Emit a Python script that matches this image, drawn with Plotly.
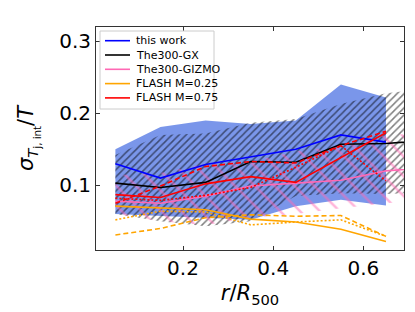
import plotly.graph_objects as go

r_bins = [0.05, 0.15, 0.25, 0.35, 0.45, 0.55, 0.65]
r_bins_ext = [0.05, 0.15, 0.25, 0.35, 0.45, 0.55, 0.65, 0.75]

# this work
tw_med = [0.130, 0.110, 0.129, 0.139, 0.150, 0.170, 0.160]
tw_hi = [0.150, 0.181, 0.190, 0.185, 0.190, 0.240, 0.222]
tw_lo = [0.060, 0.058, 0.055, 0.052, 0.071, 0.080, 0.072]

# The300-GX
gx_med = [0.103, 0.097, 0.104, 0.133, 0.132, 0.157, 0.158, 0.163]
gx_hi = [0.142, 0.170, 0.172, 0.187, 0.192, 0.213, 0.228, 0.235]
gx_lo = [0.060, 0.050, 0.043, 0.050, 0.085, 0.089, 0.088, 0.090]

# The300-GIZMO
gz_med = [0.078, 0.075, 0.085, 0.099, 0.103, 0.107, 0.120, 0.125]
gz_hi = [0.114, 0.117, 0.130, 0.133, 0.147, 0.155, 0.170, 0.172]
gz_lo = [0.060, 0.050, 0.045, 0.055, 0.060, 0.068, 0.075, 0.080]

# FLASH M=0.25
f25_solid = [0.071, 0.068, 0.066, 0.053, 0.049, 0.039, 0.022]
f25_dash = [0.031, 0.040, 0.055, 0.059, 0.057, 0.058, 0.029]
f25_dot = [0.052, 0.064, 0.063, 0.045, 0.049, 0.052, 0.029]

# FLASH M=0.75
f75_solid = [0.087, 0.083, 0.102, 0.112, 0.104, 0.139, 0.173]
f75_dash = [0.075, 0.099, 0.126, 0.133, 0.131, 0.155, 0.175]
f75_dot = [0.082, 0.079, 0.086, 0.097, 0.125, 0.155, 0.106]

legend_names = ["this work", "The300-GX", "The300-GIZMO", "FLASH M=0.25", "FLASH M=0.75"]

BLUE = "#0000ff"
PINK = "#ff69b4"
ORANGE = "#ffa500"
RED = "#ff0000"
legend_colors = [BLUE, "black", PINK, ORANGE, RED]

fig = go.Figure()

def band(x, lo, hi, **kw):
    return go.Scatter(x=list(x) + list(x)[::-1], y=list(hi) + list(lo)[::-1],
                      mode="lines", line=dict(width=0), fill="toself",
                      showlegend=False, hoverinfo="skip", **kw)

fig.add_trace(band(r_bins, tw_lo, tw_hi, fillcolor="rgba(65,105,225,0.7)"))
fig.add_trace(band(r_bins_ext, gx_lo, gx_hi, fillcolor="rgba(0,0,0,0)",
                   fillpattern=dict(shape="/", fgcolor="black", bgcolor="rgba(0,0,0,0)",
                                    size=5, solidity=0.3)))
fig.add_trace(band(r_bins_ext, gz_lo, gz_hi, fillcolor="rgba(0,0,0,0)",
                   fillpattern=dict(shape="\\", fgcolor=PINK, bgcolor="rgba(0,0,0,0)",
                                    size=14, solidity=0.18)))

def line(x, y, color, dash="solid"):
    return go.Scatter(x=x, y=y, mode="lines", line=dict(color=color, width=1.6, dash=dash),
                      showlegend=False, hoverinfo="skip")

fig.add_trace(line(r_bins, tw_med, BLUE))
fig.add_trace(line(r_bins_ext, gx_med, "black"))
fig.add_trace(line(r_bins_ext, gz_med, PINK))
fig.add_trace(line(r_bins, f25_solid, ORANGE))
fig.add_trace(line(r_bins, f75_solid, RED))
fig.add_trace(line(r_bins, f25_dash, ORANGE, dash="5px,3px"))
fig.add_trace(line(r_bins, f25_dot, ORANGE, dash="2px,2px"))
fig.add_trace(line(r_bins, f75_dash, RED, dash="5px,3px"))
fig.add_trace(line(r_bins, f75_dot, RED, dash="2px,2px"))

axis_common = dict(showline=True, linecolor="#333333", linewidth=1, mirror="ticks",
                   ticks="inside", ticklen=4, tickcolor="#333333", showgrid=False,
                   zeroline=False, tickfont=dict(size=20, color="black", family="DejaVu Sans"))

fig.update_xaxes(range=[0.007, 0.69], tickvals=[0.2, 0.4, 0.6], ticktext=["0.2", "0.4", "0.6"],
                 title=dict(text="<i>r</i>/<i>R</i><sub>500</sub>", font=dict(size=21, color="black", family="DejaVu Sans"), standoff=6),
                 **axis_common)
fig.update_yaxes(range=[0.0101, 0.3199], tickvals=[0.1, 0.2, 0.3], ticktext=["0.1", "0.2", "0.3"],
                 title=dict(text="<i>σ</i><sub><i>T</i><sub>j, int</sub></sub>/<i>T</i>", font=dict(size=21, color="black", family="DejaVu Sans"), standoff=19),
                 **axis_common)

# manual legend (matplotlib-like compact layout)
W, H, L, B = 308.0, 223.0, 88.0, 242.0
def px(x):
    return (x - L) / W
def py(y):
    return (B - y) / H

shapes = [dict(type="rect", xref="paper", yref="paper",
               x0=px(92), x1=px(206), y0=py(101), y1=py(23),
               line=dict(color="#cccccc", width=1), fillcolor="rgba(255,255,255,0.85)",
               layer="above")]
annotations = []
for i, (nm, col) in enumerate(zip(legend_names, legend_colors)):
    yc = 32.7 + i * 14.3
    shapes.append(dict(type="line", xref="paper", yref="paper",
                       x0=px(97), x1=px(122), y0=py(yc), y1=py(yc),
                       line=dict(color=col, width=1.6), layer="above"))
    annotations.append(dict(text=nm, xref="paper", yref="paper", x=px(126), y=py(yc),
                            xanchor="left", yanchor="middle", showarrow=False,
                            font=dict(size=11, color="black", family="DejaVu Sans")))

fig.update_layout(
    width=415, height=312,
    margin=dict(l=88, r=19, t=19, b=70),
    paper_bgcolor="white", plot_bgcolor="white",
    font=dict(family="DejaVu Sans", color="black"),
    showlegend=False,
    shapes=shapes, annotations=annotations,
)

fig.write_html("out.html")
